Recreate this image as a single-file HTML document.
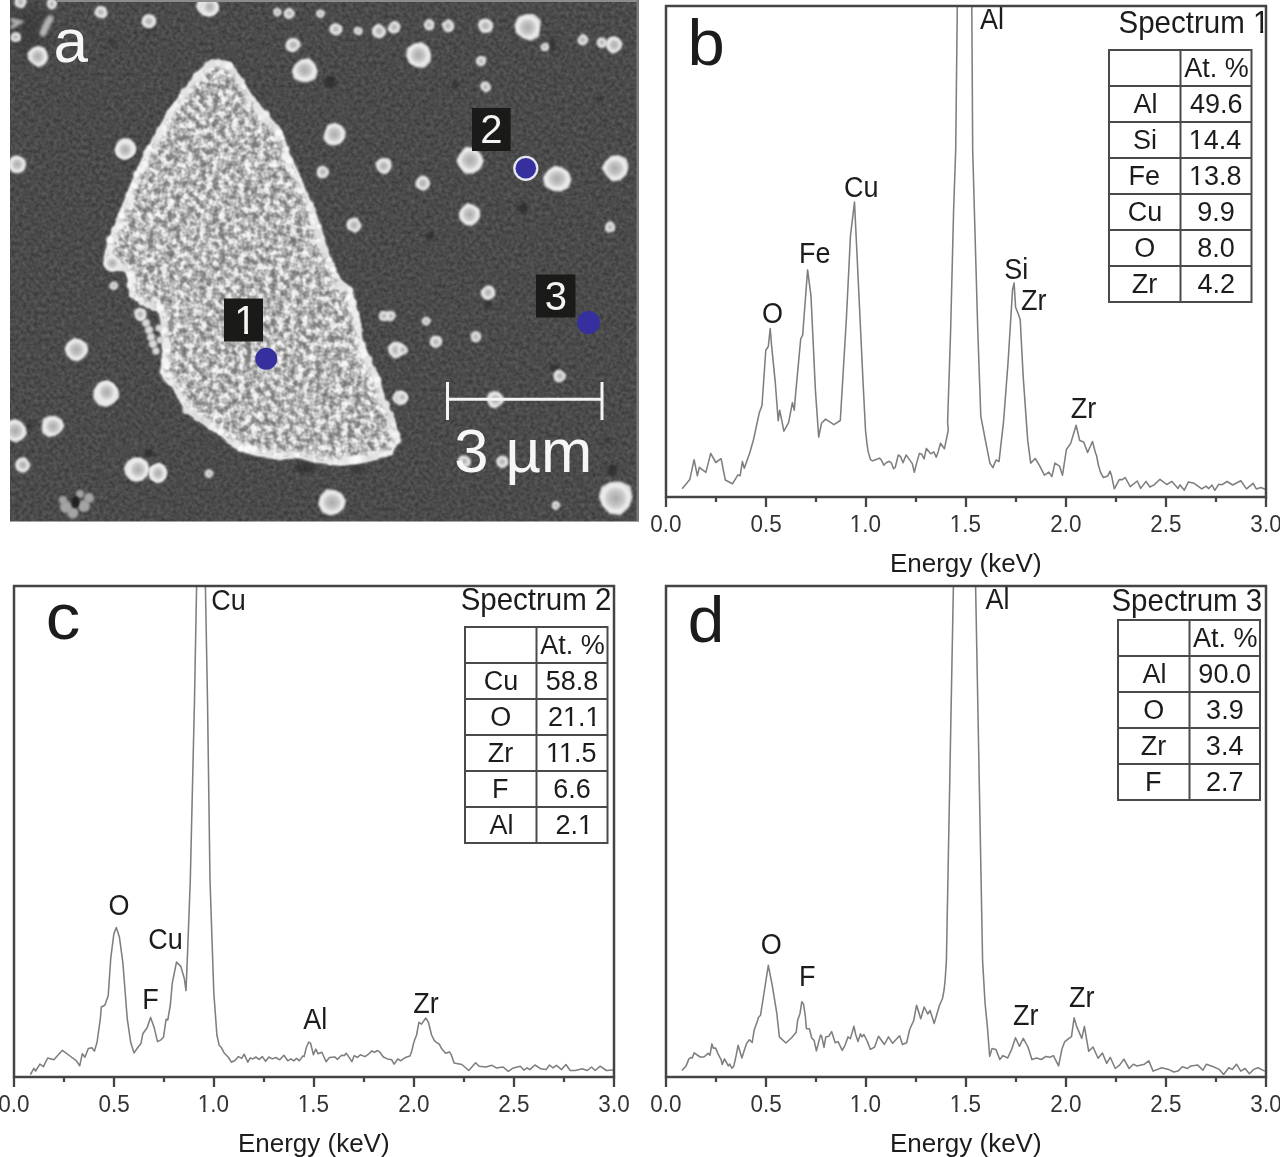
<!DOCTYPE html>
<html><head><meta charset="utf-8"><style>
html,body{margin:0;padding:0;background:#fff;}
body{width:1280px;height:1157px;overflow:hidden;font-family:"Liberation Sans", sans-serif;}
svg{display:block;font-family:"Liberation Sans", sans-serif;filter:blur(0.45px);}
</style></head><body>
<svg width="1280" height="1157" viewBox="0 0 1280 1157">
<defs>
<clipPath id="semclip"><rect x="10" y="0" width="629" height="521.5"/></clipPath>
<filter id="bgn" x="0" y="0" width="100%" height="100%" color-interpolation-filters="sRGB">
  <feTurbulence type="fractalNoise" baseFrequency="0.26" numOctaves="2" seed="7" result="n"/>
  <feColorMatrix in="n" type="matrix" values="0.2 0 0 0 0.192  0.2 0 0 0 0.192  0.2 0 0 0 0.192  0 0 0 0 1" result="m"/>
  <feGaussianBlur in="m" stdDeviation="0.6"/>
</filter>
<filter id="tex" x="-5%" y="-5%" width="110%" height="110%" color-interpolation-filters="sRGB">
  <feTurbulence type="fractalNoise" baseFrequency="0.155" numOctaves="2" seed="3" result="n"/>
  <feColorMatrix in="n" type="matrix" values="1 0 0 0 0  1 0 0 0 0  1 0 0 0 0  0 0 0 0 1" result="m"/>
  <feComponentTransfer in="m" result="g"><feFuncR type="table" tableValues="0.41 0.46 0.55 0.72 0.9 0.97 1"/><feFuncG type="table" tableValues="0.41 0.46 0.55 0.72 0.9 0.97 1"/><feFuncB type="table" tableValues="0.41 0.46 0.55 0.72 0.9 0.97 1"/></feComponentTransfer>
  <feGaussianBlur in="g" stdDeviation="0.7" result="gb"/>
  <feComposite in="gb" in2="SourceGraphic" operator="in"/>
</filter>
<filter id="texb" x="-5%" y="-5%" width="110%" height="110%" color-interpolation-filters="sRGB">
  <feTurbulence type="fractalNoise" baseFrequency="0.16" numOctaves="2" seed="9" result="n"/>
  <feColorMatrix in="n" type="matrix" values="1.3 0 0 0 0.22  1.3 0 0 0 0.22  1.3 0 0 0 0.22  0 0 0 0 1" result="g"/>
  <feGaussianBlur in="g" stdDeviation="0.7" result="gb"/>
  <feComposite in="gb" in2="SourceGraphic" operator="in"/>
</filter>
<filter id="dk" x="-50%" y="-50%" width="200%" height="200%" color-interpolation-filters="sRGB"><feGaussianBlur stdDeviation="1.5"/></filter>
<filter id="gsoft" color-interpolation-filters="sRGB"><feGaussianBlur stdDeviation="0.55"/></filter>
<filter id="hz" x="-50%" y="-50%" width="200%" height="200%" color-interpolation-filters="sRGB"><feGaussianBlur stdDeviation="8"/></filter>
<filter id="soft" x="-30%" y="-30%" width="160%" height="160%" color-interpolation-filters="sRGB"><feGaussianBlur stdDeviation="0.8"/></filter>
<filter id="soft2" x="-60%" y="-60%" width="220%" height="220%" color-interpolation-filters="sRGB"><feGaussianBlur stdDeviation="1.6"/></filter>
<radialGradient id="dotg">
  <stop offset="0" stop-color="#a8a8a8"/><stop offset="0.5" stop-color="#c8c8c8"/>
  <stop offset="0.8" stop-color="#f2f2f2"/><stop offset="1" stop-color="#d8d8d8"/>
</radialGradient>
</defs>
<g clip-path="url(#semclip)">
<rect x="10" y="0" width="629" height="521.5" fill="#4a4a4a" filter="url(#bgn)"/>
<ellipse cx="330" cy="82" rx="6" ry="6" fill="#1e1e1e" opacity="0.55" filter="url(#dk)"/>
<ellipse cx="523" cy="208" rx="5" ry="5" fill="#1e1e1e" opacity="0.6" filter="url(#dk)"/>
<ellipse cx="612" cy="470" rx="5" ry="5" fill="#1e1e1e" opacity="0.6" filter="url(#dk)"/>
<ellipse cx="488" cy="304" rx="4" ry="4" fill="#1e1e1e" opacity="0.5" filter="url(#dk)"/>
<ellipse cx="555" cy="368" rx="5" ry="4" fill="#1e1e1e" opacity="0.5" filter="url(#dk)"/>
<ellipse cx="608" cy="440" rx="3" ry="3" fill="#1e1e1e" opacity="0.5" filter="url(#dk)"/>
<ellipse cx="430" cy="236" rx="4" ry="5" fill="#1e1e1e" opacity="0.5" filter="url(#dk)"/>
<ellipse cx="148.8" cy="453" rx="5" ry="4" fill="#1e1e1e" opacity="0.55" filter="url(#dk)"/>
<ellipse cx="305" cy="468" rx="10" ry="5" fill="#1e1e1e" opacity="0.45" filter="url(#dk)"/>
<ellipse cx="553" cy="45" rx="3" ry="7" fill="#1e1e1e" opacity="0.5" filter="url(#dk)"/>
<ellipse cx="150" cy="30" rx="4" ry="4" fill="#1e1e1e" opacity="0.45" filter="url(#dk)"/>
<ellipse cx="455" cy="85" rx="4" ry="4" fill="#1e1e1e" opacity="0.4" filter="url(#dk)"/>
<ellipse cx="600" cy="100" rx="3" ry="3" fill="#1e1e1e" opacity="0.45" filter="url(#dk)"/>
<ellipse cx="30" cy="426" rx="4" ry="4" fill="#1e1e1e" opacity="0.45" filter="url(#dk)"/>
<ellipse cx="112" cy="42" rx="4" ry="4" fill="#1e1e1e" opacity="0.4" filter="url(#dk)"/>
<ellipse cx="358" cy="470" rx="8" ry="4" fill="#1e1e1e" opacity="0.35" filter="url(#dk)"/>
<g filter="url(#soft)">
<polygon points="212.5,62.5 230,65 237.5,77.5 252.5,100 265,115 280,132.5 287.5,155 295,170 305,195 312.5,210 320,232.5 325,250 332.5,270 340,282 350,290 352.5,302.5 357.5,320 360,340 367.5,360 377.5,380 382.5,400 392.5,420 397,440 390,452 365,460 340,463 315,460 297.5,455 280,457.5 252.5,452.5 235,445 220,432 202.5,421 187,410 180,396 175,387 163,372 165,355 164,335 163,320 160,310 147,305 132,295 130,275 125,268 110,268 106,258 110.7,240 117.5,225 125,205 135,180 145,157.5 157.5,135 170,112.5 185,92.5 200,72.5" fill="#b0b0b0" stroke="#f0f0f0" stroke-width="5" stroke-linejoin="round"/>
<circle cx="146" cy="286" r="16" fill="#b0b0b0" stroke="#e8e8e8" stroke-width="3"/>
<circle cx="113" cy="262" r="8" fill="#b0b0b0" stroke="#e8e8e8" stroke-width="3"/>
<circle cx="178" cy="370" r="16" fill="#b0b0b0" stroke="#e8e8e8" stroke-width="3"/>
</g>
<g filter="url(#tex)">
<polygon points="212.5,62.5 230,65 237.5,77.5 252.5,100 265,115 280,132.5 287.5,155 295,170 305,195 312.5,210 320,232.5 325,250 332.5,270 340,282 350,290 352.5,302.5 357.5,320 360,340 367.5,360 377.5,380 382.5,400 392.5,420 397,440 390,452 365,460 340,463 315,460 297.5,455 280,457.5 252.5,452.5 235,445 220,432 202.5,421 187,410 180,396 175,387 163,372 165,355 164,335 163,320 160,310 147,305 132,295 130,275 125,268 110,268 106,258 110.7,240 117.5,225 125,205 135,180 145,157.5 157.5,135 170,112.5 185,92.5 200,72.5" fill="#fff"/>
<circle cx="146" cy="286" r="15" fill="#fff"/>
<circle cx="113" cy="262" r="7" fill="#fff"/>
<circle cx="178" cy="370" r="15" fill="#fff"/>
</g>
<clipPath id="pclip"><polygon points="212.5,62.5 230,65 237.5,77.5 252.5,100 265,115 280,132.5 287.5,155 295,170 305,195 312.5,210 320,232.5 325,250 332.5,270 340,282 350,290 352.5,302.5 357.5,320 360,340 367.5,360 377.5,380 382.5,400 392.5,420 397,440 390,452 365,460 340,463 315,460 297.5,455 280,457.5 252.5,452.5 235,445 220,432 202.5,421 187,410 180,396 175,387 163,372 165,355 164,335 163,320 160,310 147,305 132,295 130,275 125,268 110,268 106,258 110.7,240 117.5,225 125,205 135,180 145,157.5 157.5,135 170,112.5 185,92.5 200,72.5"/><circle cx="146" cy="286" r="16"/><circle cx="113" cy="262" r="8"/><circle cx="178" cy="370" r="16"/></clipPath>
<g clip-path="url(#pclip)"><polygon points="212.5,62.5 230,65 237.5,77.5 252.5,100 265,115 280,132.5 287.5,155 295,170 305,195 312.5,210 320,232.5 325,250 332.5,270 340,282 350,290 352.5,302.5 357.5,320 360,340 367.5,360 377.5,380 382.5,400 392.5,420 397,440 390,452 365,460 340,463 315,460 297.5,455 280,457.5 252.5,452.5 235,445 220,432 202.5,421 187,410 180,396 175,387 163,372 165,355 164,335 163,320 160,310 147,305 132,295 130,275 125,268 110,268 106,258 110.7,240 117.5,225 125,205 135,180 145,157.5 157.5,135 170,112.5 185,92.5 200,72.5" fill="none" stroke="#ffffff" stroke-width="12" opacity="0.35" filter="url(#soft2)"/></g>
<g clip-path="url(#pclip)"><g filter="url(#gsoft)">
</g></g>
<circle cx="212.4" cy="63.0" r="3.6" fill="rgb(221,221,221)" filter="url(#soft)"/>
<circle cx="218.4" cy="63.0" r="3.7" fill="rgb(235,235,235)" filter="url(#soft)"/>
<circle cx="224.1" cy="64.6" r="4.0" fill="rgb(227,227,227)" filter="url(#soft)"/>
<circle cx="228.7" cy="65.8" r="3.9" fill="rgb(244,244,244)" filter="url(#soft)"/>
<circle cx="233.0" cy="71.7" r="3.3" fill="rgb(220,220,220)" filter="url(#soft)"/>
<circle cx="237.4" cy="77.5" r="2.9" fill="rgb(231,231,231)" filter="url(#soft)"/>
<circle cx="241.1" cy="81.6" r="3.7" fill="rgb(230,230,230)" filter="url(#soft)"/>
<circle cx="243.5" cy="86.5" r="2.2" fill="rgb(248,248,248)" filter="url(#soft)"/>
<circle cx="244.4" cy="92.4" r="2.0" fill="rgb(220,220,220)" filter="url(#soft)"/>
<circle cx="247.7" cy="96.7" r="2.5" fill="rgb(230,230,230)" filter="url(#soft)"/>
<circle cx="252.9" cy="99.7" r="2.6" fill="rgb(232,232,232)" filter="url(#soft)"/>
<circle cx="256.0" cy="105.5" r="3.5" fill="rgb(233,233,233)" filter="url(#soft)"/>
<circle cx="259.1" cy="111.5" r="4.1" fill="rgb(232,232,232)" filter="url(#soft)"/>
<circle cx="265.7" cy="114.4" r="4.0" fill="rgb(239,239,239)" filter="url(#soft)"/>
<circle cx="266.5" cy="121.3" r="2.9" fill="rgb(229,229,229)" filter="url(#soft)"/>
<circle cx="271.0" cy="125.0" r="2.7" fill="rgb(220,220,220)" filter="url(#soft)"/>
<circle cx="275.8" cy="128.5" r="3.6" fill="rgb(224,224,224)" filter="url(#soft)"/>
<circle cx="278.3" cy="133.1" r="3.8" fill="rgb(250,250,250)" filter="url(#soft)"/>
<circle cx="281.7" cy="138.2" r="2.4" fill="rgb(250,250,250)" filter="url(#soft)"/>
<circle cx="283.6" cy="143.8" r="2.1" fill="rgb(221,221,221)" filter="url(#soft)"/>
<circle cx="286.4" cy="149.1" r="2.8" fill="rgb(245,245,245)" filter="url(#soft)"/>
<circle cx="284.9" cy="156.3" r="3.7" fill="rgb(243,243,243)" filter="url(#soft)"/>
<circle cx="288.7" cy="160.7" r="3.9" fill="rgb(248,248,248)" filter="url(#soft)"/>
<circle cx="290.0" cy="166.3" r="2.4" fill="rgb(232,232,232)" filter="url(#soft)"/>
<circle cx="292.7" cy="170.9" r="2.5" fill="rgb(249,249,249)" filter="url(#soft)"/>
<circle cx="295.5" cy="175.6" r="2.8" fill="rgb(236,236,236)" filter="url(#soft)"/>
<circle cx="299.1" cy="180.0" r="2.2" fill="rgb(243,243,243)" filter="url(#soft)"/>
<circle cx="301.4" cy="184.8" r="2.1" fill="rgb(225,225,225)" filter="url(#soft)"/>
<circle cx="301.0" cy="190.8" r="3.1" fill="rgb(243,243,243)" filter="url(#soft)"/>
<circle cx="305.6" cy="194.7" r="2.7" fill="rgb(225,225,225)" filter="url(#soft)"/>
<circle cx="305.9" cy="200.8" r="2.7" fill="rgb(231,231,231)" filter="url(#soft)"/>
<circle cx="310.2" cy="204.9" r="3.4" fill="rgb(239,239,239)" filter="url(#soft)"/>
<circle cx="313.4" cy="209.7" r="2.4" fill="rgb(223,223,223)" filter="url(#soft)"/>
<circle cx="311.8" cy="216.5" r="3.3" fill="rgb(245,245,245)" filter="url(#soft)"/>
<circle cx="313.5" cy="222.2" r="3.6" fill="rgb(242,242,242)" filter="url(#soft)"/>
<circle cx="318.4" cy="226.8" r="3.0" fill="rgb(246,246,246)" filter="url(#soft)"/>
<circle cx="317.7" cy="233.2" r="4.2" fill="rgb(222,222,222)" filter="url(#soft)"/>
<circle cx="321.9" cy="238.3" r="2.7" fill="rgb(233,233,233)" filter="url(#soft)"/>
<circle cx="321.0" cy="244.8" r="3.6" fill="rgb(228,228,228)" filter="url(#soft)"/>
<circle cx="324.6" cy="250.2" r="3.7" fill="rgb(226,226,226)" filter="url(#soft)"/>
<circle cx="324.7" cy="255.8" r="2.8" fill="rgb(223,223,223)" filter="url(#soft)"/>
<circle cx="329.1" cy="259.9" r="2.6" fill="rgb(249,249,249)" filter="url(#soft)"/>
<circle cx="331.3" cy="264.8" r="3.4" fill="rgb(230,230,230)" filter="url(#soft)"/>
<circle cx="333.3" cy="269.5" r="3.0" fill="rgb(251,251,251)" filter="url(#soft)"/>
<circle cx="336.0" cy="276.1" r="2.7" fill="rgb(237,237,237)" filter="url(#soft)"/>
<circle cx="338.9" cy="283.4" r="2.9" fill="rgb(229,229,229)" filter="url(#soft)"/>
<circle cx="343.4" cy="288.0" r="3.8" fill="rgb(231,231,231)" filter="url(#soft)"/>
<circle cx="349.5" cy="290.1" r="3.1" fill="rgb(241,241,241)" filter="url(#soft)"/>
<circle cx="349.0" cy="296.7" r="3.1" fill="rgb(252,252,252)" filter="url(#soft)"/>
<circle cx="352.6" cy="302.5" r="3.9" fill="rgb(243,243,243)" filter="url(#soft)"/>
<circle cx="351.5" cy="309.1" r="3.7" fill="rgb(242,242,242)" filter="url(#soft)"/>
<circle cx="355.6" cy="314.2" r="3.5" fill="rgb(239,239,239)" filter="url(#soft)"/>
<circle cx="356.0" cy="320.2" r="3.5" fill="rgb(237,237,237)" filter="url(#soft)"/>
<circle cx="358.5" cy="325.0" r="2.6" fill="rgb(238,238,238)" filter="url(#soft)"/>
<circle cx="359.6" cy="329.9" r="2.7" fill="rgb(231,231,231)" filter="url(#soft)"/>
<circle cx="358.7" cy="335.1" r="2.0" fill="rgb(236,236,236)" filter="url(#soft)"/>
<circle cx="358.4" cy="340.6" r="2.6" fill="rgb(238,238,238)" filter="url(#soft)"/>
<circle cx="362.1" cy="344.9" r="3.4" fill="rgb(242,242,242)" filter="url(#soft)"/>
<circle cx="362.2" cy="350.6" r="3.4" fill="rgb(246,246,246)" filter="url(#soft)"/>
<circle cx="364.1" cy="355.6" r="3.9" fill="rgb(248,248,248)" filter="url(#soft)"/>
<circle cx="368.3" cy="359.6" r="4.1" fill="rgb(229,229,229)" filter="url(#soft)"/>
<circle cx="369.2" cy="365.4" r="2.4" fill="rgb(243,243,243)" filter="url(#soft)"/>
<circle cx="373.2" cy="369.7" r="3.0" fill="rgb(225,225,225)" filter="url(#soft)"/>
<circle cx="374.9" cy="375.1" r="3.6" fill="rgb(230,230,230)" filter="url(#soft)"/>
<circle cx="377.0" cy="380.1" r="4.1" fill="rgb(246,246,246)" filter="url(#soft)"/>
<circle cx="377.0" cy="385.4" r="3.2" fill="rgb(237,237,237)" filter="url(#soft)"/>
<circle cx="379.9" cy="390.0" r="2.1" fill="rgb(230,230,230)" filter="url(#soft)"/>
<circle cx="380.6" cy="395.2" r="3.4" fill="rgb(231,231,231)" filter="url(#soft)"/>
<circle cx="380.6" cy="400.9" r="3.5" fill="rgb(222,222,222)" filter="url(#soft)"/>
<circle cx="385.8" cy="404.6" r="4.2" fill="rgb(230,230,230)" filter="url(#soft)"/>
<circle cx="385.0" cy="411.2" r="2.3" fill="rgb(240,240,240)" filter="url(#soft)"/>
<circle cx="390.8" cy="414.6" r="3.1" fill="rgb(222,222,222)" filter="url(#soft)"/>
<circle cx="391.2" cy="420.3" r="2.8" fill="rgb(224,224,224)" filter="url(#soft)"/>
<circle cx="393.0" cy="425.1" r="2.5" fill="rgb(243,243,243)" filter="url(#soft)"/>
<circle cx="391.8" cy="430.7" r="2.9" fill="rgb(237,237,237)" filter="url(#soft)"/>
<circle cx="396.3" cy="434.9" r="3.9" fill="rgb(243,243,243)" filter="url(#soft)"/>
<circle cx="397.7" cy="440.4" r="3.2" fill="rgb(239,239,239)" filter="url(#soft)"/>
<circle cx="391.2" cy="444.7" r="3.2" fill="rgb(241,241,241)" filter="url(#soft)"/>
<circle cx="390.2" cy="452.8" r="2.6" fill="rgb(242,242,242)" filter="url(#soft)"/>
<circle cx="385.1" cy="453.9" r="2.9" fill="rgb(243,243,243)" filter="url(#soft)"/>
<circle cx="379.7" cy="454.1" r="2.3" fill="rgb(244,244,244)" filter="url(#soft)"/>
<circle cx="374.8" cy="456.1" r="4.1" fill="rgb(228,228,228)" filter="url(#soft)"/>
<circle cx="369.8" cy="457.9" r="2.8" fill="rgb(220,220,220)" filter="url(#soft)"/>
<circle cx="364.8" cy="458.5" r="2.7" fill="rgb(229,229,229)" filter="url(#soft)"/>
<circle cx="359.8" cy="458.9" r="3.9" fill="rgb(244,244,244)" filter="url(#soft)"/>
<circle cx="354.8" cy="459.9" r="4.1" fill="rgb(251,251,251)" filter="url(#soft)"/>
<circle cx="349.8" cy="460.0" r="4.1" fill="rgb(244,244,244)" filter="url(#soft)"/>
<circle cx="344.8" cy="460.9" r="3.9" fill="rgb(230,230,230)" filter="url(#soft)"/>
<circle cx="340.1" cy="462.4" r="2.6" fill="rgb(239,239,239)" filter="url(#soft)"/>
<circle cx="335.1" cy="461.4" r="2.9" fill="rgb(240,240,240)" filter="url(#soft)"/>
<circle cx="329.9" cy="462.6" r="2.7" fill="rgb(238,238,238)" filter="url(#soft)"/>
<circle cx="325.3" cy="458.8" r="2.1" fill="rgb(248,248,248)" filter="url(#soft)"/>
<circle cx="320.2" cy="458.6" r="2.1" fill="rgb(228,228,228)" filter="url(#soft)"/>
<circle cx="314.9" cy="460.3" r="2.0" fill="rgb(237,237,237)" filter="url(#soft)"/>
<circle cx="309.7" cy="456.4" r="3.0" fill="rgb(222,222,222)" filter="url(#soft)"/>
<circle cx="303.9" cy="454.7" r="2.6" fill="rgb(229,229,229)" filter="url(#soft)"/>
<circle cx="297.5" cy="454.9" r="2.6" fill="rgb(251,251,251)" filter="url(#soft)"/>
<circle cx="291.6" cy="455.3" r="3.0" fill="rgb(227,227,227)" filter="url(#soft)"/>
<circle cx="285.4" cy="453.8" r="2.3" fill="rgb(238,238,238)" filter="url(#soft)"/>
<circle cx="280.2" cy="456.6" r="2.7" fill="rgb(238,238,238)" filter="url(#soft)"/>
<circle cx="274.5" cy="456.4" r="2.1" fill="rgb(242,242,242)" filter="url(#soft)"/>
<circle cx="269.3" cy="454.0" r="3.6" fill="rgb(228,228,228)" filter="url(#soft)"/>
<circle cx="264.0" cy="451.7" r="2.6" fill="rgb(249,249,249)" filter="url(#soft)"/>
<circle cx="258.0" cy="453.2" r="2.2" fill="rgb(232,232,232)" filter="url(#soft)"/>
<circle cx="253.7" cy="449.8" r="3.7" fill="rgb(247,247,247)" filter="url(#soft)"/>
<circle cx="246.9" cy="449.4" r="3.5" fill="rgb(250,250,250)" filter="url(#soft)"/>
<circle cx="240.7" cy="447.9" r="3.9" fill="rgb(250,250,250)" filter="url(#soft)"/>
<circle cx="235.9" cy="443.9" r="3.9" fill="rgb(232,232,232)" filter="url(#soft)"/>
<circle cx="229.6" cy="441.1" r="3.0" fill="rgb(224,224,224)" filter="url(#soft)"/>
<circle cx="226.2" cy="435.0" r="2.0" fill="rgb(247,247,247)" filter="url(#soft)"/>
<circle cx="220.4" cy="431.4" r="3.4" fill="rgb(250,250,250)" filter="url(#soft)"/>
<circle cx="215.3" cy="429.8" r="2.3" fill="rgb(250,250,250)" filter="url(#soft)"/>
<circle cx="211.4" cy="426.3" r="4.0" fill="rgb(241,241,241)" filter="url(#soft)"/>
<circle cx="207.3" cy="423.0" r="2.9" fill="rgb(223,223,223)" filter="url(#soft)"/>
<circle cx="204.1" cy="418.8" r="2.5" fill="rgb(225,225,225)" filter="url(#soft)"/>
<circle cx="197.2" cy="417.5" r="3.5" fill="rgb(221,221,221)" filter="url(#soft)"/>
<circle cx="193.1" cy="412.3" r="2.9" fill="rgb(224,224,224)" filter="url(#soft)"/>
<circle cx="186.1" cy="410.4" r="3.5" fill="rgb(223,223,223)" filter="url(#soft)"/>
<circle cx="186.9" cy="404.2" r="2.3" fill="rgb(227,227,227)" filter="url(#soft)"/>
<circle cx="182.5" cy="400.6" r="2.3" fill="rgb(238,238,238)" filter="url(#soft)"/>
<circle cx="180.2" cy="395.9" r="3.0" fill="rgb(231,231,231)" filter="url(#soft)"/>
<circle cx="178.0" cy="391.2" r="2.9" fill="rgb(230,230,230)" filter="url(#soft)"/>
<circle cx="177.1" cy="385.3" r="2.5" fill="rgb(226,226,226)" filter="url(#soft)"/>
<circle cx="171.3" cy="381.8" r="3.6" fill="rgb(237,237,237)" filter="url(#soft)"/>
<circle cx="169.2" cy="375.3" r="3.3" fill="rgb(245,245,245)" filter="url(#soft)"/>
<circle cx="162.5" cy="371.9" r="2.3" fill="rgb(247,247,247)" filter="url(#soft)"/>
<circle cx="166.3" cy="366.6" r="3.5" fill="rgb(251,251,251)" filter="url(#soft)"/>
<circle cx="165.4" cy="360.8" r="4.1" fill="rgb(243,243,243)" filter="url(#soft)"/>
<circle cx="164.3" cy="355.0" r="2.3" fill="rgb(238,238,238)" filter="url(#soft)"/>
<circle cx="167.1" cy="349.9" r="3.4" fill="rgb(252,252,252)" filter="url(#soft)"/>
<circle cx="166.3" cy="344.9" r="4.1" fill="rgb(234,234,234)" filter="url(#soft)"/>
<circle cx="166.2" cy="339.9" r="3.2" fill="rgb(236,236,236)" filter="url(#soft)"/>
<circle cx="163.7" cy="335.0" r="2.6" fill="rgb(228,228,228)" filter="url(#soft)"/>
<circle cx="163.4" cy="330.0" r="3.9" fill="rgb(249,249,249)" filter="url(#soft)"/>
<circle cx="163.4" cy="325.0" r="2.4" fill="rgb(221,221,221)" filter="url(#soft)"/>
<circle cx="163.4" cy="319.9" r="2.2" fill="rgb(222,222,222)" filter="url(#soft)"/>
<circle cx="164.0" cy="314.2" r="2.3" fill="rgb(249,249,249)" filter="url(#soft)"/>
<circle cx="160.7" cy="308.1" r="3.9" fill="rgb(250,250,250)" filter="url(#soft)"/>
<circle cx="153.2" cy="308.3" r="2.2" fill="rgb(221,221,221)" filter="url(#soft)"/>
<circle cx="147.5" cy="304.3" r="2.8" fill="rgb(229,229,229)" filter="url(#soft)"/>
<circle cx="141.6" cy="302.3" r="2.9" fill="rgb(234,234,234)" filter="url(#soft)"/>
<circle cx="137.0" cy="298.3" r="2.2" fill="rgb(251,251,251)" filter="url(#soft)"/>
<circle cx="131.7" cy="295.0" r="2.3" fill="rgb(244,244,244)" filter="url(#soft)"/>
<circle cx="133.1" cy="289.8" r="2.5" fill="rgb(241,241,241)" filter="url(#soft)"/>
<circle cx="130.3" cy="285.1" r="3.6" fill="rgb(244,244,244)" filter="url(#soft)"/>
<circle cx="132.0" cy="279.9" r="3.6" fill="rgb(242,242,242)" filter="url(#soft)"/>
<circle cx="130.3" cy="274.8" r="3.8" fill="rgb(247,247,247)" filter="url(#soft)"/>
<circle cx="125.0" cy="268.8" r="2.8" fill="rgb(222,222,222)" filter="url(#soft)"/>
<circle cx="120.0" cy="267.4" r="3.3" fill="rgb(231,231,231)" filter="url(#soft)"/>
<circle cx="115.0" cy="266.6" r="2.2" fill="rgb(222,222,222)" filter="url(#soft)"/>
<circle cx="112.1" cy="267.2" r="2.4" fill="rgb(251,251,251)" filter="url(#soft)"/>
<circle cx="107.5" cy="263.2" r="3.1" fill="rgb(242,242,242)" filter="url(#soft)"/>
<circle cx="108.9" cy="258.8" r="3.0" fill="rgb(247,247,247)" filter="url(#soft)"/>
<circle cx="109.2" cy="252.4" r="3.0" fill="rgb(232,232,232)" filter="url(#soft)"/>
<circle cx="111.4" cy="246.6" r="2.3" fill="rgb(243,243,243)" filter="url(#soft)"/>
<circle cx="110.3" cy="239.8" r="3.9" fill="rgb(250,250,250)" filter="url(#soft)"/>
<circle cx="115.1" cy="236.0" r="2.6" fill="rgb(237,237,237)" filter="url(#soft)"/>
<circle cx="115.0" cy="229.9" r="3.7" fill="rgb(235,235,235)" filter="url(#soft)"/>
<circle cx="120.2" cy="226.0" r="4.0" fill="rgb(242,242,242)" filter="url(#soft)"/>
<circle cx="118.7" cy="219.8" r="2.8" fill="rgb(223,223,223)" filter="url(#soft)"/>
<circle cx="121.5" cy="215.1" r="3.5" fill="rgb(250,250,250)" filter="url(#soft)"/>
<circle cx="122.8" cy="209.9" r="2.3" fill="rgb(240,240,240)" filter="url(#soft)"/>
<circle cx="126.7" cy="205.7" r="3.5" fill="rgb(230,230,230)" filter="url(#soft)"/>
<circle cx="129.7" cy="201.1" r="3.6" fill="rgb(234,234,234)" filter="url(#soft)"/>
<circle cx="129.3" cy="195.1" r="3.4" fill="rgb(243,243,243)" filter="url(#soft)"/>
<circle cx="131.3" cy="190.1" r="2.4" fill="rgb(243,243,243)" filter="url(#soft)"/>
<circle cx="134.7" cy="185.7" r="3.6" fill="rgb(249,249,249)" filter="url(#soft)"/>
<circle cx="137.1" cy="181.0" r="2.5" fill="rgb(233,233,233)" filter="url(#soft)"/>
<circle cx="136.8" cy="174.1" r="3.4" fill="rgb(247,247,247)" filter="url(#soft)"/>
<circle cx="140.1" cy="168.8" r="2.6" fill="rgb(249,249,249)" filter="url(#soft)"/>
<circle cx="145.0" cy="164.2" r="3.7" fill="rgb(246,246,246)" filter="url(#soft)"/>
<circle cx="147.0" cy="158.6" r="2.1" fill="rgb(242,242,242)" filter="url(#soft)"/>
<circle cx="146.8" cy="152.6" r="3.6" fill="rgb(235,235,235)" filter="url(#soft)"/>
<circle cx="149.5" cy="148.2" r="3.1" fill="rgb(250,250,250)" filter="url(#soft)"/>
<circle cx="154.9" cy="145.4" r="2.5" fill="rgb(223,223,223)" filter="url(#soft)"/>
<circle cx="155.9" cy="140.0" r="3.7" fill="rgb(223,223,223)" filter="url(#soft)"/>
<circle cx="159.2" cy="136.0" r="2.9" fill="rgb(239,239,239)" filter="url(#soft)"/>
<circle cx="160.4" cy="130.7" r="3.9" fill="rgb(232,232,232)" filter="url(#soft)"/>
<circle cx="164.5" cy="127.1" r="3.1" fill="rgb(245,245,245)" filter="url(#soft)"/>
<circle cx="167.0" cy="122.6" r="2.5" fill="rgb(240,240,240)" filter="url(#soft)"/>
<circle cx="167.4" cy="116.9" r="2.2" fill="rgb(230,230,230)" filter="url(#soft)"/>
<circle cx="170.5" cy="112.9" r="3.9" fill="rgb(233,233,233)" filter="url(#soft)"/>
<circle cx="173.4" cy="108.8" r="3.0" fill="rgb(242,242,242)" filter="url(#soft)"/>
<circle cx="176.8" cy="105.1" r="3.3" fill="rgb(244,244,244)" filter="url(#soft)"/>
<circle cx="179.7" cy="101.0" r="2.3" fill="rgb(220,220,220)" filter="url(#soft)"/>
<circle cx="181.5" cy="96.1" r="2.7" fill="rgb(248,248,248)" filter="url(#soft)"/>
<circle cx="184.5" cy="92.2" r="4.2" fill="rgb(227,227,227)" filter="url(#soft)"/>
<circle cx="190.0" cy="90.0" r="3.1" fill="rgb(236,236,236)" filter="url(#soft)"/>
<circle cx="190.8" cy="84.3" r="2.7" fill="rgb(228,228,228)" filter="url(#soft)"/>
<circle cx="194.7" cy="81.0" r="3.0" fill="rgb(225,225,225)" filter="url(#soft)"/>
<circle cx="196.8" cy="76.4" r="4.1" fill="rgb(235,235,235)" filter="url(#soft)"/>
<circle cx="201.2" cy="74.0" r="3.1" fill="rgb(235,235,235)" filter="url(#soft)"/>
<circle cx="205.9" cy="71.4" r="2.4" fill="rgb(238,238,238)" filter="url(#soft)"/>
<circle cx="208.0" cy="65.4" r="3.9" fill="rgb(224,224,224)" filter="url(#soft)"/>
<circle cx="141" cy="316" r="4.5" fill="#d8d8d8" filter="url(#soft)"/>
<circle cx="146" cy="323" r="4" fill="#d8d8d8" filter="url(#soft)"/>
<circle cx="149" cy="330" r="4.2" fill="#d8d8d8" filter="url(#soft)"/>
<circle cx="151" cy="337" r="4" fill="#d8d8d8" filter="url(#soft)"/>
<circle cx="153" cy="344" r="4.2" fill="#d8d8d8" filter="url(#soft)"/>
<circle cx="156" cy="351" r="3.8" fill="#d8d8d8" filter="url(#soft)"/>
<circle cx="159" cy="328" r="3.5" fill="#d8d8d8" filter="url(#soft)"/>
<circle cx="160" cy="340" r="3.5" fill="#d8d8d8" filter="url(#soft)"/>
<ellipse cx="28" cy="30" rx="20" ry="26" fill="#2a2a2a" opacity="0.35" filter="url(#hz)"/>
<path d="M43,33 L47,24 L50,19" stroke="#b4b4b4" stroke-width="7" stroke-linecap="round" fill="none" filter="url(#soft2)"/>
<path d="M12,20 L20,22 L12,27" stroke="#b0b0b0" stroke-width="4" stroke-linecap="round" fill="none" filter="url(#soft2)"/>
<polygon points="28.6,59.2 27.9,52.7 32.5,48.2 38.3,46.3 44.2,48.1 47.0,53.5 47.6,59.4 44.1,64.5 38.1,66.7 32.8,63.4" fill="url(#dotg)" stroke="#e8e8e8" stroke-width="1" stroke-linejoin="round" filter="url(#soft)"/>
<polygon points="122.8,157.9 117.1,155.4 115.5,149.2 118.7,144.0 122.6,138.9 129.4,139.1 134.2,143.6 136.0,149.6 133.1,154.9 128.4,157.9" fill="url(#dotg)" stroke="#e8e8e8" stroke-width="1" stroke-linejoin="round" filter="url(#soft)"/>
<polygon points="9.0,162.6 11.1,158.0 15.7,155.7 20.7,157.0 24.9,160.1 25.6,165.5 23.5,170.9 18.1,172.9 12.6,172.1 8.9,167.9" fill="url(#dotg)" stroke="#e8e8e8" stroke-width="1" stroke-linejoin="round" filter="url(#soft)"/>
<polygon points="144.7,15.5 148.8,14.7 153.3,15.4 155.8,19.5 155.2,24.1 152.1,27.5 147.8,27.9 144.1,26.3 141.9,22.9 142.5,18.9" fill="url(#dotg)" stroke="#e8e8e8" stroke-width="1" stroke-linejoin="round" filter="url(#soft)"/>
<polygon points="101.6,6.6 105.3,7.6 106.7,11.2 107.0,15.0 104.2,17.9 100.5,17.7 97.3,16.5 94.7,13.8 95.6,10.0 97.7,6.7" fill="url(#dotg)" stroke="#e8e8e8" stroke-width="1" stroke-linejoin="round" filter="url(#soft)"/>
<polygon points="199.5,12.1 196.5,6.9 198.1,0.7 203.6,-2.2 209.3,-1.9 214.3,1.0 217.6,6.5 215.3,12.7 209.6,15.3 204.0,15.6" fill="url(#dotg)" stroke="#e8e8e8" stroke-width="1" stroke-linejoin="round" filter="url(#soft)"/>
<polygon points="25.0,5.2 22.6,8.0 19.0,7.2 15.8,5.5 14.8,2.0 16.2,-1.3 18.8,-4.0 22.4,-3.2 25.7,-1.6 26.1,2.0" fill="url(#dotg)" stroke="#e8e8e8" stroke-width="1" stroke-linejoin="round" filter="url(#soft)"/>
<polygon points="47.8,6.2 47.2,3.4 47.9,0.2 50.9,-1.2 53.9,-0.3 56.6,1.4 56.5,4.6 55.4,7.3 52.9,9.2 49.7,8.6" fill="url(#dotg)" stroke="#e8e8e8" stroke-width="1" stroke-linejoin="round" filter="url(#soft)"/>
<polygon points="20.1,40.2 17.1,41.4 14.2,41.5 11.4,40.1 10.9,37.0 11.9,34.2 14.3,32.7 17.1,32.7 19.8,34.0 20.4,37.0" fill="url(#dotg)" stroke="#e8e8e8" stroke-width="1" stroke-linejoin="round" filter="url(#soft)"/>
<polygon points="295.7,64.2 301.4,59.8 309.1,58.6 314.6,64.1 317.1,71.1 315.3,78.6 308.3,81.5 301.5,81.4 294.5,78.6 292.3,70.9" fill="url(#dotg)" stroke="#e8e8e8" stroke-width="1" stroke-linejoin="round" filter="url(#soft)"/>
<polygon points="335.0,145.1 328.3,144.3 323.6,138.7 325.3,131.9 327.9,125.3 335.0,123.2 341.5,126.0 345.2,131.7 344.5,138.0 340.8,142.9" fill="url(#dotg)" stroke="#e8e8e8" stroke-width="1" stroke-linejoin="round" filter="url(#soft)"/>
<polygon points="134.1,146.8 134.6,152.9 129.9,157.0 124.2,159.6 118.4,156.7 115.8,151.2 116.5,145.5 119.6,140.2 125.7,140.1 131.0,141.9" fill="url(#dotg)" stroke="#e8e8e8" stroke-width="1" stroke-linejoin="round" filter="url(#soft)"/>
<polygon points="376.0,162.9 379.6,159.2 384.4,158.5 389.5,159.3 391.2,164.1 390.6,168.6 388.1,172.3 383.6,173.8 379.5,171.5 376.9,167.9" fill="url(#dotg)" stroke="#e8e8e8" stroke-width="1" stroke-linejoin="round" filter="url(#soft)"/>
<polygon points="318.4,176.9 317.2,173.6 317.3,170.1 319.3,166.9 323.3,166.0 326.7,168.0 328.6,171.3 328.0,175.0 325.2,177.3 321.9,177.8" fill="url(#dotg)" stroke="#e8e8e8" stroke-width="1" stroke-linejoin="round" filter="url(#soft)"/>
<polygon points="361.3,225.8 359.1,229.9 355.3,232.5 351.2,230.6 347.5,228.5 346.9,224.2 348.4,220.1 352.4,218.5 356.9,218.0 359.2,221.9" fill="url(#dotg)" stroke="#e8e8e8" stroke-width="1" stroke-linejoin="round" filter="url(#soft)"/>
<polygon points="94.0,390.4 98.1,383.7 105.7,381.5 113.0,383.8 117.9,389.8 118.4,397.7 113.0,403.1 106.3,406.4 98.7,404.7 93.9,398.3" fill="url(#dotg)" stroke="#e8e8e8" stroke-width="1" stroke-linejoin="round" filter="url(#soft)"/>
<polygon points="126.0,474.8 124.3,467.7 127.8,461.6 133.7,458.0 140.3,459.3 145.6,463.5 147.1,470.2 143.3,475.6 138.3,480.0 131.1,480.0" fill="url(#dotg)" stroke="#e8e8e8" stroke-width="1" stroke-linejoin="round" filter="url(#soft)"/>
<polygon points="164.3,466.1 166.1,471.4 165.7,477.0 161.4,480.7 155.9,481.1 150.5,479.1 149.5,473.5 149.2,468.0 154.1,465.3 159.2,463.5" fill="url(#dotg)" stroke="#e8e8e8" stroke-width="1" stroke-linejoin="round" filter="url(#soft)"/>
<polygon points="388.6,350.9 388.8,346.0 392.7,342.8 397.6,342.0 402.3,344.1 403.4,349.1 402.2,353.4 399.2,356.9 394.4,358.1 390.6,355.0" fill="url(#dotg)" stroke="#e8e8e8" stroke-width="1" stroke-linejoin="round" filter="url(#soft)"/>
<polygon points="403.7,404.1 399.1,404.6 395.3,402.5 392.6,398.9 394.0,394.7 396.5,391.2 400.8,391.1 404.7,392.5 407.3,396.1 406.9,400.7" fill="url(#dotg)" stroke="#e8e8e8" stroke-width="1" stroke-linejoin="round" filter="url(#soft)"/>
<polygon points="341.6,493.9 345.5,500.8 343.3,508.4 337.5,513.2 330.1,515.1 322.4,512.0 318.7,504.3 320.7,496.0 326.5,489.7 334.8,490.5" fill="url(#dotg)" stroke="#e8e8e8" stroke-width="1" stroke-linejoin="round" filter="url(#soft)"/>
<polygon points="392.4,320.3 389.4,320.7 386.8,319.4 385.2,316.9 385.4,313.9 387.6,311.7 390.6,311.3 393.6,312.1 395.4,314.9 394.4,318.1" fill="url(#dotg)" stroke="#e8e8e8" stroke-width="1" stroke-linejoin="round" filter="url(#soft)"/>
<polygon points="388.0,318.0 386.4,320.8 383.3,320.4 380.3,319.7 379.0,316.8 379.8,313.9 381.6,311.3 384.7,311.6 387.2,312.8 388.8,315.2" fill="url(#dotg)" stroke="#e8e8e8" stroke-width="1" stroke-linejoin="round" filter="url(#soft)"/>
<polygon points="117.9,286.7 116.4,288.6 114.3,289.6 112.1,289.2 110.1,287.9 109.9,285.4 110.9,283.1 113.1,282.0 115.7,282.2 117.6,284.0" fill="url(#dotg)" stroke="#e8e8e8" stroke-width="1" stroke-linejoin="round" filter="url(#soft)"/>
<polygon points="414.3,44.1 421.8,42.6 428.0,47.1 430.5,54.0 430.1,61.6 424.5,67.4 416.6,66.8 410.0,63.2 406.7,56.3 407.5,48.3" fill="url(#dotg)" stroke="#e8e8e8" stroke-width="1" stroke-linejoin="round" filter="url(#soft)"/>
<polygon points="514.9,25.3 518.1,17.7 525.7,14.7 533.8,14.6 540.3,20.3 539.6,28.5 538.3,36.7 530.5,40.3 523.0,37.7 516.8,33.1" fill="url(#dotg)" stroke="#e8e8e8" stroke-width="1" stroke-linejoin="round" filter="url(#soft)"/>
<polygon points="480.1,20.4 484.4,19.1 488.6,19.5 492.1,22.4 492.7,27.0 490.8,31.2 486.5,32.6 482.1,32.2 479.6,28.7 478.2,24.7" fill="url(#dotg)" stroke="#e8e8e8" stroke-width="1" stroke-linejoin="round" filter="url(#soft)"/>
<polygon points="431.3,20.1 433.7,22.1 433.8,25.2 433.2,28.3 430.3,30.1 426.9,29.7 424.9,27.2 424.0,24.1 425.7,21.5 428.1,19.4" fill="url(#dotg)" stroke="#e8e8e8" stroke-width="1" stroke-linejoin="round" filter="url(#soft)"/>
<polygon points="451.8,21.3 453.5,24.3 453.8,27.8 451.7,30.8 448.1,32.1 444.7,30.5 443.2,27.3 442.3,23.6 445.3,21.4 448.5,19.5" fill="url(#dotg)" stroke="#e8e8e8" stroke-width="1" stroke-linejoin="round" filter="url(#soft)"/>
<polygon points="617.1,51.7 612.3,53.3 608.4,50.2 606.3,46.2 606.4,41.5 609.6,37.6 614.7,36.6 619.3,39.1 622.1,43.5 620.6,48.5" fill="url(#dotg)" stroke="#e8e8e8" stroke-width="1" stroke-linejoin="round" filter="url(#soft)"/>
<polygon points="606.3,41.3 606.4,44.1 605.0,46.7 602.0,47.4 599.0,46.9 597.2,44.3 597.3,41.2 598.8,38.4 602.0,37.7 604.8,38.8" fill="url(#dotg)" stroke="#e8e8e8" stroke-width="1" stroke-linejoin="round" filter="url(#soft)"/>
<polygon points="579.1,43.6 577.6,40.6 579.0,37.7 580.8,35.2 584.1,34.6 586.6,36.6 588.0,39.4 587.0,42.3 585.1,44.5 582.0,44.9" fill="url(#dotg)" stroke="#e8e8e8" stroke-width="1" stroke-linejoin="round" filter="url(#soft)"/>
<polygon points="460.6,153.6 465.7,147.1 474.1,148.5 480.1,153.6 483.4,161.1 480.0,168.7 473.3,173.0 465.2,173.3 460.1,167.2 456.7,160.3" fill="url(#dotg)" stroke="#e8e8e8" stroke-width="1" stroke-linejoin="round" filter="url(#soft)"/>
<polygon points="545.2,186.0 543.3,177.5 548.1,170.7 554.4,166.2 561.9,167.8 568.2,172.1 571.0,179.9 567.9,187.9 560.2,191.2 552.5,190.1" fill="url(#dotg)" stroke="#e8e8e8" stroke-width="1" stroke-linejoin="round" filter="url(#soft)"/>
<polygon points="620.5,179.7 612.1,181.0 606.5,174.9 602.1,168.1 606.0,161.2 611.4,156.2 618.8,155.7 626.1,158.9 628.0,166.7 626.2,174.2" fill="url(#dotg)" stroke="#e8e8e8" stroke-width="1" stroke-linejoin="round" filter="url(#soft)"/>
<polygon points="462.4,207.8 467.5,203.4 473.9,205.6 479.2,209.3 479.9,215.9 477.1,221.5 471.8,225.4 465.2,224.3 460.4,219.7 459.1,213.3" fill="url(#dotg)" stroke="#e8e8e8" stroke-width="1" stroke-linejoin="round" filter="url(#soft)"/>
<polygon points="416.2,181.9 418.0,178.4 421.6,176.0 425.9,176.8 428.8,180.1 429.8,184.5 427.4,188.2 423.5,190.5 419.4,188.8 415.9,186.2" fill="url(#dotg)" stroke="#e8e8e8" stroke-width="1" stroke-linejoin="round" filter="url(#soft)"/>
<polygon points="612.0,222.0 614.0,224.5 614.7,227.3 614.2,230.5 611.2,231.5 608.0,232.1 605.5,229.9 605.5,226.7 606.4,224.0 608.7,222.0" fill="url(#dotg)" stroke="#e8e8e8" stroke-width="1" stroke-linejoin="round" filter="url(#soft)"/>
<polygon points="544.8,50.6 542.3,50.3 541.2,48.0 541.1,45.5 543.0,43.9 545.2,43.1 547.6,43.8 548.4,46.1 548.4,48.3 547.2,50.5" fill="url(#dotg)" stroke="#e8e8e8" stroke-width="1" stroke-linejoin="round" filter="url(#soft)"/>
<polygon points="485.6,57.8 485.5,61.0 484.8,63.9 482.3,65.8 479.2,65.3 476.6,63.4 476.4,60.4 477.6,57.8 479.9,56.3 482.7,56.6" fill="url(#dotg)" stroke="#e8e8e8" stroke-width="1" stroke-linejoin="round" filter="url(#soft)"/>
<polygon points="480.7,84.9 482.5,82.4 485.4,81.9 488.1,82.8 489.8,85.1 490.4,88.2 488.6,91.0 485.4,91.9 482.7,90.1 481.1,87.8" fill="url(#dotg)" stroke="#e8e8e8" stroke-width="1" stroke-linejoin="round" filter="url(#soft)"/>
<polygon points="494.5,290.7 495.0,295.1 491.9,298.2 488.0,299.7 483.9,298.4 481.5,294.9 481.3,290.6 484.4,287.8 488.0,285.6 492.4,286.8" fill="url(#dotg)" stroke="#e8e8e8" stroke-width="1" stroke-linejoin="round" filter="url(#soft)"/>
<polygon points="438.1,346.8 434.4,347.6 431.3,345.4 430.1,342.2 430.8,338.8 433.1,336.1 436.6,336.3 440.3,337.1 441.9,340.8 441.0,344.5" fill="url(#dotg)" stroke="#e8e8e8" stroke-width="1" stroke-linejoin="round" filter="url(#soft)"/>
<polygon points="479.3,332.8 480.7,335.5 480.7,338.6 478.6,340.9 475.6,342.2 472.6,340.8 471.5,337.9 471.0,334.7 473.2,332.3 476.3,331.5" fill="url(#dotg)" stroke="#e8e8e8" stroke-width="1" stroke-linejoin="round" filter="url(#soft)"/>
<polygon points="427.5,317.4 429.7,318.8 430.3,321.4 429.1,323.7 426.9,325.1 424.4,324.9 422.7,323.0 421.9,320.6 423.3,318.6 425.1,317.3" fill="url(#dotg)" stroke="#e8e8e8" stroke-width="1" stroke-linejoin="round" filter="url(#soft)"/>
<polygon points="554.0,377.0 554.0,373.6 556.2,370.7 559.9,369.9 563.0,371.9 565.6,374.7 564.8,378.6 562.0,381.0 558.5,382.1 555.1,380.4" fill="url(#dotg)" stroke="#e8e8e8" stroke-width="1" stroke-linejoin="round" filter="url(#soft)"/>
<polygon points="487.4,398.1 489.1,393.2 494.1,391.6 499.1,392.5 502.6,396.3 503.6,401.5 499.8,404.9 495.9,407.8 490.9,406.9 488.2,402.8" fill="url(#dotg)" stroke="#e8e8e8" stroke-width="1" stroke-linejoin="round" filter="url(#soft)"/>
<polygon points="602.7,505.8 599.3,496.9 601.8,487.3 610.4,482.4 620.0,481.9 629.9,486.3 632.0,497.1 628.6,507.0 620.6,514.7 609.6,513.2" fill="url(#dotg)" stroke="#e8e8e8" stroke-width="1" stroke-linejoin="round" filter="url(#soft)"/>
<polygon points="407.5,349.6 406.8,352.8 403.9,354.0 401.0,354.7 398.3,353.0 398.0,350.0 397.9,346.8 400.8,345.5 403.8,345.1 406.0,347.0" fill="url(#dotg)" stroke="#e8e8e8" stroke-width="1" stroke-linejoin="round" filter="url(#soft)"/>
<polygon points="397.3,397.5 398.7,394.8 400.6,392.2 403.8,392.6 406.3,394.3 407.5,397.1 406.4,400.0 404.0,401.7 401.0,402.2 398.4,400.4" fill="url(#dotg)" stroke="#e8e8e8" stroke-width="1" stroke-linejoin="round" filter="url(#soft)"/>
<polygon points="500.7,467.6 497.8,465.3 496.7,462.1 497.1,458.7 499.8,456.6 503.1,456.1 506.7,457.3 507.8,460.9 507.6,464.7 504.5,467.2" fill="url(#dotg)" stroke="#e8e8e8" stroke-width="1" stroke-linejoin="round" filter="url(#soft)"/>
<polygon points="470.3,463.5 467.8,466.8 464.0,466.9 460.2,466.7 458.4,463.3 458.4,459.7 460.1,456.2 464.0,455.9 467.5,456.7 470.2,459.5" fill="url(#dotg)" stroke="#e8e8e8" stroke-width="1" stroke-linejoin="round" filter="url(#soft)"/>
<polygon points="555.0,501.6 557.6,501.6 559.4,503.5 559.7,506.1 558.3,508.0 556.4,509.5 554.0,509.0 552.4,507.2 552.2,505.0 552.8,502.7" fill="url(#dotg)" stroke="#e8e8e8" stroke-width="1" stroke-linejoin="round" filter="url(#soft)"/>
<polygon points="83.6,357.4 77.8,360.9 71.1,359.4 66.8,354.5 65.0,348.1 68.4,342.3 74.1,338.4 80.9,340.0 86.8,344.3 87.8,351.6" fill="url(#dotg)" stroke="#e8e8e8" stroke-width="1" stroke-linejoin="round" filter="url(#soft)"/>
<polygon points="335.2,23.6 338.5,24.5 341.7,26.6 342.0,30.5 339.9,33.8 336.4,34.9 333.0,34.1 330.1,31.7 329.9,27.9 331.8,24.7" fill="url(#dotg)" stroke="#e8e8e8" stroke-width="1" stroke-linejoin="round" filter="url(#soft)"/>
<polygon points="355.2,27.9 357.6,27.3 359.9,27.8 362.0,29.2 362.2,31.9 360.9,34.2 358.4,34.5 356.2,34.1 354.6,32.5 354.2,30.2" fill="url(#dotg)" stroke="#e8e8e8" stroke-width="1" stroke-linejoin="round" filter="url(#soft)"/>
<polygon points="374.3,26.6 377.6,24.1 381.6,25.4 384.4,28.1 385.9,32.0 383.8,35.9 380.0,38.0 375.8,37.0 372.7,34.2 372.4,30.1" fill="url(#dotg)" stroke="#e8e8e8" stroke-width="1" stroke-linejoin="round" filter="url(#soft)"/>
<polygon points="390.7,32.7 388.2,29.7 389.0,26.0 390.8,23.2 393.9,21.2 397.6,22.4 400.1,25.3 399.6,29.0 397.8,32.1 394.4,33.1" fill="url(#dotg)" stroke="#e8e8e8" stroke-width="1" stroke-linejoin="round" filter="url(#soft)"/>
<polygon points="295.3,38.4 298.8,40.8 300.5,45.2 297.9,48.9 294.6,51.5 290.1,51.5 286.4,48.8 286.0,44.3 287.6,40.4 291.2,38.6" fill="url(#dotg)" stroke="#e8e8e8" stroke-width="1" stroke-linejoin="round" filter="url(#soft)"/>
<polygon points="216.0,1.2 218.3,5.6 218.4,11.0 214.3,14.8 208.9,16.1 204.3,12.9 201.0,8.4 203.1,3.2 206.5,-0.5 211.7,-2.2" fill="url(#dotg)" stroke="#e8e8e8" stroke-width="1" stroke-linejoin="round" filter="url(#soft)"/>
<polygon points="280.6,13.9 279.0,15.8 276.5,16.0 274.5,14.6 273.7,12.4 274.0,10.1 275.6,8.2 278.1,8.2 280.0,9.5 281.4,11.5" fill="url(#dotg)" stroke="#e8e8e8" stroke-width="1" stroke-linejoin="round" filter="url(#soft)"/>
<polygon points="284.5,11.4 286.8,9.0 290.0,8.3 292.7,10.1 294.6,12.7 293.7,15.7 291.7,17.8 288.8,18.5 285.7,17.7 284.1,14.7" fill="url(#dotg)" stroke="#e8e8e8" stroke-width="1" stroke-linejoin="round" filter="url(#soft)"/>
<polygon points="320.3,17.5 318.1,16.8 316.7,14.9 316.6,12.5 318.0,10.6 320.3,10.0 322.6,10.4 324.3,12.3 324.1,14.9 322.8,17.1" fill="url(#dotg)" stroke="#e8e8e8" stroke-width="1" stroke-linejoin="round" filter="url(#soft)"/>
<polygon points="97.7,388.7 101.0,382.8 107.9,380.8 113.7,384.7 116.5,390.3 117.1,396.8 112.7,402.0 106.1,403.6 99.2,401.7 96.1,395.2" fill="url(#dotg)" stroke="#e8e8e8" stroke-width="1" stroke-linejoin="round" filter="url(#soft)"/>
<polygon points="55.6,416.6 61.4,419.7 63.9,426.2 60.2,431.9 55.1,435.4 48.5,436.7 42.5,432.6 42.4,425.7 43.4,419.1 49.4,416.3" fill="url(#dotg)" stroke="#e8e8e8" stroke-width="1" stroke-linejoin="round" filter="url(#soft)"/>
<polygon points="15.1,419.4 21.2,422.1 25.0,427.2 26.5,433.8 22.1,439.3 15.7,442.1 9.4,439.4 5.5,434.1 3.9,427.2 8.5,421.6" fill="url(#dotg)" stroke="#e8e8e8" stroke-width="1" stroke-linejoin="round" filter="url(#soft)"/>
<polygon points="15.6,465.3 16.5,461.0 20.1,458.2 24.6,457.7 27.9,460.8 30.0,464.7 28.6,469.0 25.2,472.0 20.6,472.1 16.8,469.6" fill="url(#dotg)" stroke="#e8e8e8" stroke-width="1" stroke-linejoin="round" filter="url(#soft)"/>
<polygon points="147.0,462.0 149.0,469.0 147.1,475.6 142.1,480.3 135.0,481.1 129.6,476.7 127.1,470.6 129.3,464.5 133.5,459.2 140.7,458.1" fill="url(#dotg)" stroke="#e8e8e8" stroke-width="1" stroke-linejoin="round" filter="url(#soft)"/>
<polygon points="152.2,479.2 149.8,474.7 150.2,469.4 154.2,465.8 159.6,463.7 163.7,467.7 166.4,472.1 165.3,477.1 162.2,481.6 156.5,482.7" fill="url(#dotg)" stroke="#e8e8e8" stroke-width="1" stroke-linejoin="round" filter="url(#soft)"/>
<polygon points="116.0,269.5 111.5,270.7 107.0,268.5 104.3,264.1 106.7,259.6 109.8,256.5 114.3,255.8 118.3,257.9 120.3,262.0 120.2,267.0" fill="url(#dotg)" stroke="#e8e8e8" stroke-width="1" stroke-linejoin="round" filter="url(#soft)"/>
<polygon points="205.9,471.3 207.7,469.9 210.0,469.8 211.9,471.1 213.2,473.3 212.1,475.5 210.4,477.2 207.8,477.5 205.9,475.8 205.3,473.5" fill="url(#dotg)" stroke="#e8e8e8" stroke-width="1" stroke-linejoin="round" filter="url(#soft)"/>
<polygon points="145.1,310.0 145.9,313.7 145.3,317.3 142.7,320.2 138.8,320.0 136.0,317.8 134.9,314.6 134.6,310.8 137.8,308.4 141.5,308.6" fill="url(#dotg)" stroke="#e8e8e8" stroke-width="1" stroke-linejoin="round" filter="url(#soft)"/>
<circle cx="66" cy="507" r="6" fill="#a4a4a4" filter="url(#soft)"/>
<circle cx="73" cy="513" r="5.5" fill="#a4a4a4" filter="url(#soft)"/>
<circle cx="84" cy="506" r="6" fill="#a4a4a4" filter="url(#soft)"/>
<circle cx="89" cy="498" r="5" fill="#a4a4a4" filter="url(#soft)"/>
<circle cx="80" cy="494" r="4" fill="#a4a4a4" filter="url(#soft)"/>
<circle cx="63" cy="500" r="4" fill="#a4a4a4" filter="url(#soft)"/>
<ellipse cx="75.5" cy="502" rx="4" ry="6" fill="#202020" filter="url(#soft)"/>
<rect x="57" y="0" width="582" height="2" fill="#8c8c8c"/>
<rect x="636.5" y="0" width="2.5" height="521.5" fill="#7a7a7a"/>
</g>
<rect x="224" y="298.5" width="39" height="43" fill="#1a1a18"/>
<text x="234.28" y="333.80" font-size="40" text-anchor="start" fill="#f4f4f4" >1</text>
<rect x="236.13" y="329.91" width="8.06" height="4.59" fill="#1a1a18"/>
<rect x="248.02" y="329.91" width="7.75" height="4.59" fill="#1a1a18"/>
<rect x="472" y="108" width="38.6" height="43" fill="#1a1a18"/>
<text x="480.18" y="142.80" font-size="40" text-anchor="start" fill="#f4f4f4" >2</text>
<rect x="536" y="274.5" width="39.5" height="43" fill="#1a1a18"/>
<text x="544.69" y="310.00" font-size="40" text-anchor="start" fill="#f4f4f4" >3</text>
<circle cx="266.25" cy="358.75" r="11" fill="#35309e"/>
<circle cx="525.8" cy="168.3" r="12.600000000000001" fill="#e6e6f0"/>
<circle cx="525.8" cy="168.3" r="10.3" fill="#35309e"/>
<circle cx="588.5" cy="322.5" r="11.5" fill="#35309e"/>
<g stroke="#f4f4f4" stroke-width="3" fill="none"><line x1="447.5" y1="399.2" x2="602" y2="399.2"/><line x1="447.5" y1="382" x2="447.5" y2="420"/><line x1="602" y1="382" x2="602" y2="420"/></g>
<text x="454.26" y="472.20" font-size="61.5" text-anchor="start" fill="#f6f6f6" >3 µm</text>
<text x="53.57" y="62.40" font-size="62" text-anchor="start" fill="#f6f6f6" >a</text>
<rect x="1109" y="50" width="142.5" height="252" fill="none" stroke="#4a4a4a" stroke-width="2"/>
<line x1="1180.5" y1="50" x2="1180.5" y2="302" stroke="#4a4a4a" stroke-width="2"/>
<line x1="1109" y1="86" x2="1251.5" y2="86" stroke="#4a4a4a" stroke-width="2"/>
<line x1="1109" y1="122" x2="1251.5" y2="122" stroke="#4a4a4a" stroke-width="2"/>
<line x1="1109" y1="158" x2="1251.5" y2="158" stroke="#4a4a4a" stroke-width="2"/>
<line x1="1109" y1="194" x2="1251.5" y2="194" stroke="#4a4a4a" stroke-width="2"/>
<line x1="1109" y1="230" x2="1251.5" y2="230" stroke="#4a4a4a" stroke-width="2"/>
<line x1="1109" y1="266" x2="1251.5" y2="266" stroke="#4a4a4a" stroke-width="2"/>
<text x="1184.19" y="77.30" font-size="27" text-anchor="start" fill="#1c1c1c" >At. %</text>
<text x="1133.62" y="113.30" font-size="27" text-anchor="start" fill="#1c1c1c" >Al</text>
<text x="1190.01" y="113.30" font-size="27" text-anchor="start" fill="#1c1c1c" >49.6</text>
<text x="1133.04" y="149.30" font-size="27" text-anchor="start" fill="#1c1c1c" >Si</text>
<text x="1188.82" y="149.30" font-size="27" text-anchor="start" fill="#1c1c1c" >14.4</text>
<rect x="1189.68" y="146.38" width="5.78" height="3.62" fill="#fff"/>
<rect x="1198.15" y="146.38" width="5.57" height="3.62" fill="#fff"/>
<text x="1128.49" y="185.30" font-size="27" text-anchor="start" fill="#1c1c1c" >Fe</text>
<text x="1189.01" y="185.30" font-size="27" text-anchor="start" fill="#1c1c1c" >13.8</text>
<rect x="1189.87" y="182.38" width="5.78" height="3.62" fill="#fff"/>
<rect x="1198.34" y="182.38" width="5.57" height="3.62" fill="#fff"/>
<text x="1127.70" y="221.30" font-size="27" text-anchor="start" fill="#1c1c1c" >Cu</text>
<text x="1197.24" y="221.30" font-size="27" text-anchor="start" fill="#1c1c1c" >9.9</text>
<text x="1134.26" y="257.30" font-size="27" text-anchor="start" fill="#1c1c1c" >O</text>
<text x="1197.17" y="257.30" font-size="27" text-anchor="start" fill="#1c1c1c" >8.0</text>
<text x="1131.80" y="293.30" font-size="27" text-anchor="start" fill="#1c1c1c" >Zr</text>
<text x="1197.60" y="293.30" font-size="27" text-anchor="start" fill="#1c1c1c" >4.2</text>
<line x1="666" y1="497" x2="666" y2="507" stroke="#444444" stroke-width="2.3"/>
<line x1="716" y1="497" x2="716" y2="502" stroke="#444444" stroke-width="2.3"/>
<line x1="766" y1="497" x2="766" y2="507" stroke="#444444" stroke-width="2.3"/>
<line x1="816" y1="497" x2="816" y2="502" stroke="#444444" stroke-width="2.3"/>
<line x1="866" y1="497" x2="866" y2="507" stroke="#444444" stroke-width="2.3"/>
<line x1="916" y1="497" x2="916" y2="502" stroke="#444444" stroke-width="2.3"/>
<line x1="966" y1="497" x2="966" y2="507" stroke="#444444" stroke-width="2.3"/>
<line x1="1016" y1="497" x2="1016" y2="502" stroke="#444444" stroke-width="2.3"/>
<line x1="1066" y1="497" x2="1066" y2="507" stroke="#444444" stroke-width="2.3"/>
<line x1="1116" y1="497" x2="1116" y2="502" stroke="#444444" stroke-width="2.3"/>
<line x1="1166" y1="497" x2="1166" y2="507" stroke="#444444" stroke-width="2.3"/>
<line x1="1216" y1="497" x2="1216" y2="502" stroke="#444444" stroke-width="2.3"/>
<line x1="1266" y1="497" x2="1266" y2="507" stroke="#444444" stroke-width="2.3"/>
<text transform="translate(650.36,531.50) scale(1,1.1)" font-size="22.5" text-anchor="start" fill="#333" >0.0</text>
<text transform="translate(750.39,531.50) scale(1,1.1)" font-size="22.5" text-anchor="start" fill="#333" >0.5</text>
<text transform="translate(849.72,531.50) scale(1,1.1)" font-size="22.5" text-anchor="start" fill="#333" >1.0</text>
<rect x="850.23" y="528.75" width="4.99" height="3.45" fill="#fff"/>
<rect x="857.51" y="528.75" width="4.82" height="3.45" fill="#fff"/>
<text transform="translate(949.75,531.50) scale(1,1.1)" font-size="22.5" text-anchor="start" fill="#333" >1.5</text>
<rect x="950.27" y="528.75" width="4.99" height="3.45" fill="#fff"/>
<rect x="957.55" y="528.75" width="4.82" height="3.45" fill="#fff"/>
<text transform="translate(1050.23,531.50) scale(1,1.1)" font-size="22.5" text-anchor="start" fill="#333" >2.0</text>
<text transform="translate(1150.27,531.50) scale(1,1.1)" font-size="22.5" text-anchor="start" fill="#333" >2.5</text>
<text transform="translate(1250.37,531.50) scale(1,1.1)" font-size="22.5" text-anchor="start" fill="#333" >3.0</text>
<text x="889.88" y="572.00" font-size="26" text-anchor="start" fill="#1c1c1c" >Energy (keV)</text>
<rect x="465" y="627" width="142.5" height="216" fill="none" stroke="#4a4a4a" stroke-width="2"/>
<line x1="536.5" y1="627" x2="536.5" y2="843" stroke="#4a4a4a" stroke-width="2"/>
<line x1="465" y1="663" x2="607.5" y2="663" stroke="#4a4a4a" stroke-width="2"/>
<line x1="465" y1="699" x2="607.5" y2="699" stroke="#4a4a4a" stroke-width="2"/>
<line x1="465" y1="735" x2="607.5" y2="735" stroke="#4a4a4a" stroke-width="2"/>
<line x1="465" y1="771" x2="607.5" y2="771" stroke="#4a4a4a" stroke-width="2"/>
<line x1="465" y1="807" x2="607.5" y2="807" stroke="#4a4a4a" stroke-width="2"/>
<text x="540.19" y="654.30" font-size="27" text-anchor="start" fill="#1c1c1c" >At. %</text>
<text x="483.70" y="690.30" font-size="27" text-anchor="start" fill="#1c1c1c" >Cu</text>
<text x="545.77" y="690.30" font-size="27" text-anchor="start" fill="#1c1c1c" >58.8</text>
<text x="490.26" y="726.30" font-size="27" text-anchor="start" fill="#1c1c1c" >O</text>
<text x="547.97" y="726.30" font-size="27" text-anchor="start" fill="#1c1c1c" >21.1</text>
<rect x="563.84" y="723.38" width="5.78" height="3.62" fill="#fff"/>
<rect x="572.31" y="723.38" width="5.57" height="3.62" fill="#fff"/>
<rect x="586.36" y="723.38" width="5.78" height="3.62" fill="#fff"/>
<rect x="594.83" y="723.38" width="5.57" height="3.62" fill="#fff"/>
<text x="487.80" y="762.30" font-size="27" text-anchor="start" fill="#1c1c1c" >Zr</text>
<text x="546.00" y="762.30" font-size="27" text-anchor="start" fill="#1c1c1c" >11.5</text>
<rect x="546.85" y="759.38" width="5.78" height="3.62" fill="#fff"/>
<rect x="555.32" y="759.38" width="5.57" height="3.62" fill="#fff"/>
<rect x="559.86" y="759.38" width="5.78" height="3.62" fill="#fff"/>
<rect x="568.33" y="759.38" width="5.57" height="3.62" fill="#fff"/>
<text x="491.94" y="798.30" font-size="27" text-anchor="start" fill="#1c1c1c" >F</text>
<text x="553.14" y="798.30" font-size="27" text-anchor="start" fill="#1c1c1c" >6.6</text>
<text x="489.62" y="834.30" font-size="27" text-anchor="start" fill="#1c1c1c" >Al</text>
<text x="555.47" y="834.30" font-size="27" text-anchor="start" fill="#1c1c1c" >2.1</text>
<rect x="578.85" y="831.38" width="5.78" height="3.62" fill="#fff"/>
<rect x="587.32" y="831.38" width="5.57" height="3.62" fill="#fff"/>
<line x1="14" y1="1077" x2="14" y2="1087" stroke="#444444" stroke-width="2.3"/>
<line x1="64" y1="1077" x2="64" y2="1082" stroke="#444444" stroke-width="2.3"/>
<line x1="114" y1="1077" x2="114" y2="1087" stroke="#444444" stroke-width="2.3"/>
<line x1="164" y1="1077" x2="164" y2="1082" stroke="#444444" stroke-width="2.3"/>
<line x1="214" y1="1077" x2="214" y2="1087" stroke="#444444" stroke-width="2.3"/>
<line x1="264" y1="1077" x2="264" y2="1082" stroke="#444444" stroke-width="2.3"/>
<line x1="314" y1="1077" x2="314" y2="1087" stroke="#444444" stroke-width="2.3"/>
<line x1="364" y1="1077" x2="364" y2="1082" stroke="#444444" stroke-width="2.3"/>
<line x1="414" y1="1077" x2="414" y2="1087" stroke="#444444" stroke-width="2.3"/>
<line x1="464" y1="1077" x2="464" y2="1082" stroke="#444444" stroke-width="2.3"/>
<line x1="514" y1="1077" x2="514" y2="1087" stroke="#444444" stroke-width="2.3"/>
<line x1="564" y1="1077" x2="564" y2="1082" stroke="#444444" stroke-width="2.3"/>
<line x1="614" y1="1077" x2="614" y2="1087" stroke="#444444" stroke-width="2.3"/>
<text transform="translate(-1.64,1111.50) scale(1,1.1)" font-size="22.5" text-anchor="start" fill="#333" >0.0</text>
<text transform="translate(98.39,1111.50) scale(1,1.1)" font-size="22.5" text-anchor="start" fill="#333" >0.5</text>
<text transform="translate(197.72,1111.50) scale(1,1.1)" font-size="22.5" text-anchor="start" fill="#333" >1.0</text>
<rect x="198.23" y="1108.75" width="4.99" height="3.45" fill="#fff"/>
<rect x="205.51" y="1108.75" width="4.82" height="3.45" fill="#fff"/>
<text transform="translate(297.75,1111.50) scale(1,1.1)" font-size="22.5" text-anchor="start" fill="#333" >1.5</text>
<rect x="298.27" y="1108.75" width="4.99" height="3.45" fill="#fff"/>
<rect x="305.55" y="1108.75" width="4.82" height="3.45" fill="#fff"/>
<text transform="translate(398.23,1111.50) scale(1,1.1)" font-size="22.5" text-anchor="start" fill="#333" >2.0</text>
<text transform="translate(498.27,1111.50) scale(1,1.1)" font-size="22.5" text-anchor="start" fill="#333" >2.5</text>
<text transform="translate(598.37,1111.50) scale(1,1.1)" font-size="22.5" text-anchor="start" fill="#333" >3.0</text>
<text x="237.88" y="1152.00" font-size="26" text-anchor="start" fill="#1c1c1c" >Energy (keV)</text>
<rect x="1118" y="620" width="142" height="180" fill="none" stroke="#4a4a4a" stroke-width="2"/>
<line x1="1189.5" y1="620" x2="1189.5" y2="800" stroke="#4a4a4a" stroke-width="2"/>
<line x1="1118" y1="656" x2="1260" y2="656" stroke="#4a4a4a" stroke-width="2"/>
<line x1="1118" y1="692" x2="1260" y2="692" stroke="#4a4a4a" stroke-width="2"/>
<line x1="1118" y1="728" x2="1260" y2="728" stroke="#4a4a4a" stroke-width="2"/>
<line x1="1118" y1="764" x2="1260" y2="764" stroke="#4a4a4a" stroke-width="2"/>
<text x="1192.94" y="647.30" font-size="27" text-anchor="start" fill="#1c1c1c" >At. %</text>
<text x="1142.62" y="683.30" font-size="27" text-anchor="start" fill="#1c1c1c" >Al</text>
<text x="1198.37" y="683.30" font-size="27" text-anchor="start" fill="#1c1c1c" >90.0</text>
<text x="1143.26" y="719.30" font-size="27" text-anchor="start" fill="#1c1c1c" >O</text>
<text x="1206.11" y="719.30" font-size="27" text-anchor="start" fill="#1c1c1c" >3.9</text>
<text x="1140.80" y="755.30" font-size="27" text-anchor="start" fill="#1c1c1c" >Zr</text>
<text x="1205.86" y="755.30" font-size="27" text-anchor="start" fill="#1c1c1c" >3.4</text>
<text x="1144.94" y="791.30" font-size="27" text-anchor="start" fill="#1c1c1c" >F</text>
<text x="1205.98" y="791.30" font-size="27" text-anchor="start" fill="#1c1c1c" >2.7</text>
<line x1="666" y1="1077" x2="666" y2="1087" stroke="#444444" stroke-width="2.3"/>
<line x1="716" y1="1077" x2="716" y2="1082" stroke="#444444" stroke-width="2.3"/>
<line x1="766" y1="1077" x2="766" y2="1087" stroke="#444444" stroke-width="2.3"/>
<line x1="816" y1="1077" x2="816" y2="1082" stroke="#444444" stroke-width="2.3"/>
<line x1="866" y1="1077" x2="866" y2="1087" stroke="#444444" stroke-width="2.3"/>
<line x1="916" y1="1077" x2="916" y2="1082" stroke="#444444" stroke-width="2.3"/>
<line x1="966" y1="1077" x2="966" y2="1087" stroke="#444444" stroke-width="2.3"/>
<line x1="1016" y1="1077" x2="1016" y2="1082" stroke="#444444" stroke-width="2.3"/>
<line x1="1066" y1="1077" x2="1066" y2="1087" stroke="#444444" stroke-width="2.3"/>
<line x1="1116" y1="1077" x2="1116" y2="1082" stroke="#444444" stroke-width="2.3"/>
<line x1="1166" y1="1077" x2="1166" y2="1087" stroke="#444444" stroke-width="2.3"/>
<line x1="1216" y1="1077" x2="1216" y2="1082" stroke="#444444" stroke-width="2.3"/>
<line x1="1266" y1="1077" x2="1266" y2="1087" stroke="#444444" stroke-width="2.3"/>
<text transform="translate(650.36,1111.50) scale(1,1.1)" font-size="22.5" text-anchor="start" fill="#333" >0.0</text>
<text transform="translate(750.39,1111.50) scale(1,1.1)" font-size="22.5" text-anchor="start" fill="#333" >0.5</text>
<text transform="translate(849.72,1111.50) scale(1,1.1)" font-size="22.5" text-anchor="start" fill="#333" >1.0</text>
<rect x="850.23" y="1108.75" width="4.99" height="3.45" fill="#fff"/>
<rect x="857.51" y="1108.75" width="4.82" height="3.45" fill="#fff"/>
<text transform="translate(949.75,1111.50) scale(1,1.1)" font-size="22.5" text-anchor="start" fill="#333" >1.5</text>
<rect x="950.27" y="1108.75" width="4.99" height="3.45" fill="#fff"/>
<rect x="957.55" y="1108.75" width="4.82" height="3.45" fill="#fff"/>
<text transform="translate(1050.23,1111.50) scale(1,1.1)" font-size="22.5" text-anchor="start" fill="#333" >2.0</text>
<text transform="translate(1150.27,1111.50) scale(1,1.1)" font-size="22.5" text-anchor="start" fill="#333" >2.5</text>
<text transform="translate(1250.37,1111.50) scale(1,1.1)" font-size="22.5" text-anchor="start" fill="#333" >3.0</text>
<text x="889.88" y="1152.00" font-size="26" text-anchor="start" fill="#1c1c1c" >Energy (keV)</text>
<text transform="translate(1118.54,33.00) scale(1,1.04)" font-size="29.5" text-anchor="start" fill="#1c1c1c" >Spectrum 1</text>
<rect x="1254.02" y="29.81" width="6.22" height="3.89" fill="#fff"/>
<rect x="1263.15" y="29.81" width="5.99" height="3.89" fill="#fff"/>
<text transform="translate(460.64,610.40) scale(1,1.04)" font-size="29.5" text-anchor="start" fill="#1c1c1c" >Spectrum 2</text>
<text transform="translate(1111.45,610.80) scale(1,1.04)" font-size="29.5" text-anchor="start" fill="#1c1c1c" >Spectrum 3</text>
<text transform="translate(687.58,65.2) scale(1.04,1)" font-size="64.5" fill="#1c1c1c">b</text>
<text transform="translate(45.77,638.9) scale(1.07,1)" font-size="64.5" fill="#1c1c1c">c</text>
<text transform="translate(687.74,641.5) scale(1.02,1)" font-size="64.5" fill="#1c1c1c">d</text>
<polyline points="682.2,488.7 689.8,479.6 694.1,459.7 697.4,475.8 699.3,467.3 705.9,472.4 710.7,453.4 715.8,462.5 721.1,458.7 725.3,480.0 732.5,483.8 737.9,474.9 740.1,475.8 742.4,461.6 744.3,468.2 749.7,453.0 753.5,439.7 759.2,413.1 762.0,405.5 765.8,350.3 768.3,346.5 770.2,328.5 771.5,344.6 775.3,382.7 778.2,420.7 779.7,410.2 783.9,431.1 788.6,422.6 792.4,402.6 794.3,410.2 795.2,398.4 800.7,339.0 802.7,334.8 807.6,269.9 811.0,296.1 815.4,390.1 818.7,437.1 821.5,423.3 825.6,419.1 829.8,421.9 833.9,424.7 840.3,420.5 846.4,318.2 850.5,235.3 854.5,202.0 857.4,262.9 862.9,379.1 865.5,430.0 867.0,444.1 868.2,451.9 870.5,459.7 872.5,460.9 875.6,459.7 879.5,458.1 881.1,459.7 883.8,465.2 886.2,462.8 889.3,461.3 891.3,462.8 893.6,468.7 895.2,467.5 898.3,455.0 900.6,456.6 903.0,462.8 906.1,455.0 908.4,458.1 912.3,463.6 914.3,472.2 916.3,464.4 919.4,453.4 921.7,454.2 924.1,458.9 926.4,448.4 928.8,451.5 930.7,453.8 933.8,451.9 936.2,457.3 938.1,451.9 940.5,443.3 944.4,448.8 946.7,437.8 948.3,430.0 947.6,422.2 950.6,331.5 953.6,210.5 955.7,150.0 957.3,6.0 971.8,6.0 972.7,150.0 974.8,225.6 977.8,331.5 980.8,416.2 985.4,440.4 989.9,463.1 992.9,467.6 996.0,460.0 999.0,461.6 1003.5,422.2 1008.1,361.7 1012.6,289.1 1014.1,283.1 1015.6,307.3 1018.0,313.3 1020.2,319.4 1023.2,376.9 1027.7,440.4 1030.7,463.1 1035.3,458.5 1039.8,466.1 1044.4,475.2 1048.9,472.1 1051.9,476.7 1054.9,463.1 1059.5,466.1 1062.5,475.2 1066.4,449.5 1070.7,443.4 1076.1,425.3 1079.7,440.4 1083.7,441.9 1087.6,452.5 1092.5,441.5 1095.6,453.4 1096.4,455.0 1098.5,465.5 1100.6,472.6 1103.4,477.5 1107.7,476.1 1110.1,471.2 1111.5,475.4 1114.3,488.8 1119.3,479.6 1122.4,479.6 1125.2,477.5 1130.2,486.6 1137.2,481.0 1140.7,488.4 1146.0,481.4 1149.9,487.0 1154.1,484.9 1160.0,479.3 1166.7,484.5 1172.0,481.4 1178.0,488.4 1180.1,484.9 1184.3,490.2 1188.4,481.9 1194.1,483.3 1201.8,488.9 1206.0,486.1 1208.8,488.6 1212.0,485.0 1214.8,490.3 1218.7,484.3 1222.2,484.7 1227.1,481.5 1232.7,485.0 1240.8,480.8 1246.5,488.9 1253.1,483.3 1256.3,488.9 1260.9,487.5 1265.1,489.3" fill="none" stroke="#7e7e7e" stroke-width="1.55" stroke-linejoin="round"/>
<polyline points="30.4,1074.5 33.9,1068.4 35.6,1071.0 39.9,1064.1 43.4,1066.7 47.7,1058.0 53.8,1059.8 62.4,1050.3 69.3,1055.5 76.2,1060.6 79.7,1065.8 82.3,1053.7 84.9,1057.2 88.3,1048.5 91.8,1047.7 94.4,1051.1 97.0,1042.5 100.4,1018.3 101.3,1007.0 104.8,1005.3 108.2,995.8 110.8,957.8 113.9,933.6 116.3,927.5 119.4,937.0 122.9,963.0 127.2,1018.3 130.7,1042.5 134.1,1052.9 137.6,1047.7 141.0,1043.4 142.8,1033.8 147.1,1027.8 150.6,1017.4 154.0,1026.9 157.5,1041.6 160.9,1039.9 163.5,1037.3 166.1,1019.2 167.8,1020.0 170.4,1004.5 172.2,983.7 176.5,962.1 180.8,966.4 184.3,978.5 186.0,990.6 187.7,949.1 190.3,880.0 194.5,700.0 196.6,586.0 205.4,586.0 207.5,700.0 210.0,880.0 211.9,936.3 213.8,992.5 216.9,1035.0 219.2,1045.3 221.1,1047.2 224.4,1053.3 228.1,1057.0 231.4,1062.2 235.2,1060.3 238.4,1056.6 241.7,1058.4 244.1,1054.2 247.8,1062.2 250.2,1058.0 253.0,1058.9 255.8,1057.0 259.1,1059.4 262.3,1056.6 265.6,1061.2 268.9,1057.0 272.2,1058.9 275.9,1057.5 279.7,1059.8 283.9,1055.2 287.7,1060.8 290.9,1058.9 293.8,1060.8 296.6,1058.4 299.4,1060.8 302.7,1056.1 304.1,1056.6 306.4,1047.2 308.8,1042.0 310.6,1043.4 313.4,1054.7 315.8,1049.1 318.1,1053.8 321.9,1052.3 326.1,1061.7 329.4,1057.5 335.0,1057.0 337.3,1059.4 341.6,1055.2 344.4,1055.6 346.2,1053.3 348.6,1056.6 351.9,1061.7 354.2,1055.6 357.5,1057.5 360.3,1054.7 365.0,1056.6 367.8,1054.7 372.0,1050.9 374.4,1052.3 377.7,1050.5 380.0,1052.3 383.3,1057.0 387.5,1058.9 391.7,1059.8 394.1,1064.1 395.9,1061.7 397.8,1058.9 400.6,1060.8 403.9,1058.4 406.7,1057.0 410.0,1056.1 411.9,1050.5 413.3,1044.4 414.7,1039.7 416.6,1035.0 418.9,1022.3 421.5,1024.1 425.8,1018.0 428.4,1022.3 431.6,1035.0 434.4,1040.6 437.2,1043.0 439.1,1043.9 441.9,1049.1 445.6,1053.3 449.4,1051.9 451.2,1054.7 454.1,1063.1 456.7,1063.6 461.9,1064.5 468.8,1070.5 475.6,1062.7 479.1,1066.2 485.9,1067.0 492.0,1065.3 496.3,1067.9 503.1,1067.0 508.3,1071.3 513.4,1067.9 520.3,1066.2 523.8,1070.1 527.2,1067.9 529.8,1069.6 534.9,1065.0 540.9,1068.8 546.1,1069.6 549.5,1065.0 553.0,1067.9 556.4,1065.3 561.6,1069.6 565.9,1064.5 570.2,1070.5 575.3,1070.5 582.2,1068.8 587.3,1070.5 591.6,1067.0 595.1,1070.5 600.2,1066.2 606.3,1070.5 613.1,1070.1" fill="none" stroke="#7e7e7e" stroke-width="1.55" stroke-linejoin="round"/>
<polyline points="681.9,1070.6 686.1,1065.9 688.9,1058.9 690.8,1057.5 692.2,1058.0 694.1,1052.8 700.2,1057.0 703.9,1057.0 708.1,1053.3 710.0,1055.2 711.9,1043.9 713.3,1048.1 715.6,1048.1 718.4,1054.7 721.2,1059.8 722.2,1064.5 724.5,1058.9 728.3,1065.9 729.7,1064.1 732.0,1068.3 733.9,1065.9 736.2,1055.2 738.1,1045.3 741.9,1058.0 744.7,1049.1 746.6,1043.4 749.4,1039.7 752.2,1042.5 754.1,1030.3 757.8,1020.0 758.2,1017.7 760.5,1015.3 763.7,995.0 768.3,965.3 772.3,985.6 776.9,1013.8 777.5,1020.0 779.4,1036.9 785.9,1043.0 791.6,1037.8 796.2,1032.2 797.7,1020.0 798.8,1016.9 800.0,1013.4 801.8,1001.7 803.5,1004.1 805.3,1015.8 806.4,1028.7 809.4,1028.7 811.7,1038.0 814.1,1040.4 816.4,1050.9 820.5,1035.1 821.7,1036.3 824.0,1047.4 825.8,1036.9 828.7,1036.3 831.6,1031.6 835.2,1042.7 838.1,1041.6 842.2,1050.4 845.1,1045.1 848.0,1036.9 850.4,1038.6 853.9,1026.3 855.7,1034.5 858.0,1041.6 860.4,1033.9 862.1,1036.9 863.9,1034.5 867.4,1041.6 870.3,1049.2 874.4,1047.4 878.5,1036.3 884.4,1044.5 888.5,1036.9 892.6,1043.3 899.6,1035.7 902.5,1044.5 906.6,1042.7 909.6,1029.8 913.7,1020.5 916.6,1005.2 920.7,1018.7 924.2,1007.0 927.7,1014.0 930.1,1010.5 934.2,1023.4 939.5,1005.2 942.4,998.8 944.1,990.0 945.2,979.1 946.4,960.6 953.4,586.0 975.6,586.0 982.6,960.6 985.0,1002.5 987.3,1025.9 989.7,1056.4 992.0,1048.6 995.9,1049.4 999.8,1059.5 1003.0,1055.6 1007.7,1058.0 1011.6,1049.4 1015.5,1037.7 1019.4,1046.3 1023.3,1038.4 1028.0,1047.0 1031.9,1059.5 1036.6,1058.0 1041.3,1059.5 1045.9,1056.4 1050.0,1057.3 1053.4,1055.6 1058.6,1065.9 1062.0,1048.8 1064.6,1041.9 1068.9,1038.4 1071.5,1036.7 1074.1,1017.8 1076.6,1026.4 1081.8,1038.4 1084.4,1026.4 1088.7,1051.3 1093.0,1047.0 1098.1,1058.2 1102.4,1053.0 1106.7,1063.4 1110.2,1057.3 1115.3,1068.5 1119.6,1065.1 1123.9,1059.1 1129.1,1068.5 1133.4,1064.2 1136.8,1065.9 1144.5,1064.2 1148.8,1060.8 1153.1,1071.1 1161.7,1067.7 1168.6,1069.4 1173.8,1072.0 1178.0,1071.1 1182.3,1066.8 1187.5,1068.5 1190.9,1065.9 1197.8,1065.1 1203.0,1070.2 1206.4,1064.2 1213.3,1066.8 1219.3,1069.4 1223.6,1074.5 1228.8,1067.7 1232.2,1069.4 1236.5,1064.2 1240.8,1071.1 1245.1,1068.5 1249.4,1073.7 1253.7,1069.4 1258.0,1067.7 1264.8,1071.1" fill="none" stroke="#7e7e7e" stroke-width="1.55" stroke-linejoin="round"/>
<text transform="translate(980.05,29.00) scale(1,1.06)" font-size="27" text-anchor="start" fill="#1c1c1c" >Al</text>
<text transform="translate(843.93,197.20) scale(1,1.06)" font-size="27" text-anchor="start" fill="#1c1c1c" >Cu</text>
<text transform="translate(798.99,262.50) scale(1,1.06)" font-size="27" text-anchor="start" fill="#1c1c1c" >Fe</text>
<text transform="translate(762.02,322.50) scale(1,1.06)" font-size="27" text-anchor="start" fill="#1c1c1c" >O</text>
<text transform="translate(1004.17,278.50) scale(1,1.06)" font-size="27" text-anchor="start" fill="#1c1c1c" >Si</text>
<text transform="translate(1020.94,309.60) scale(1,1.06)" font-size="27" text-anchor="start" fill="#1c1c1c" >Zr</text>
<text transform="translate(1070.74,417.70) scale(1,1.06)" font-size="27" text-anchor="start" fill="#1c1c1c" >Zr</text>
<text transform="translate(211.33,610.10) scale(1,1.06)" font-size="27" text-anchor="start" fill="#1c1c1c" >Cu</text>
<text transform="translate(108.62,915.00) scale(1,1.06)" font-size="27" text-anchor="start" fill="#1c1c1c" >O</text>
<text transform="translate(148.33,949.10) scale(1,1.06)" font-size="27" text-anchor="start" fill="#1c1c1c" >Cu</text>
<text transform="translate(142.29,1008.80) scale(1,1.06)" font-size="27" text-anchor="start" fill="#1c1c1c" >F</text>
<text transform="translate(303.25,1029.20) scale(1,1.06)" font-size="27" text-anchor="start" fill="#1c1c1c" >Al</text>
<text transform="translate(413.34,1013.20) scale(1,1.06)" font-size="27" text-anchor="start" fill="#1c1c1c" >Zr</text>
<text transform="translate(985.55,608.75) scale(1,1.06)" font-size="27" text-anchor="start" fill="#1c1c1c" >Al</text>
<text transform="translate(760.82,953.60) scale(1,1.06)" font-size="27" text-anchor="start" fill="#1c1c1c" >O</text>
<text transform="translate(798.99,985.60) scale(1,1.06)" font-size="27" text-anchor="start" fill="#1c1c1c" >F</text>
<text transform="translate(1013.04,1025.20) scale(1,1.06)" font-size="27" text-anchor="start" fill="#1c1c1c" >Zr</text>
<text transform="translate(1068.94,1006.60) scale(1,1.06)" font-size="27" text-anchor="start" fill="#1c1c1c" >Zr</text>
<rect x="666" y="6" width="600" height="491" fill="none" stroke="#444444" stroke-width="2.5"/>
<rect x="14" y="586" width="600" height="491" fill="none" stroke="#444444" stroke-width="2.5"/>
<rect x="666" y="586" width="600" height="491" fill="none" stroke="#444444" stroke-width="2.5"/>
</svg>
</body></html>
